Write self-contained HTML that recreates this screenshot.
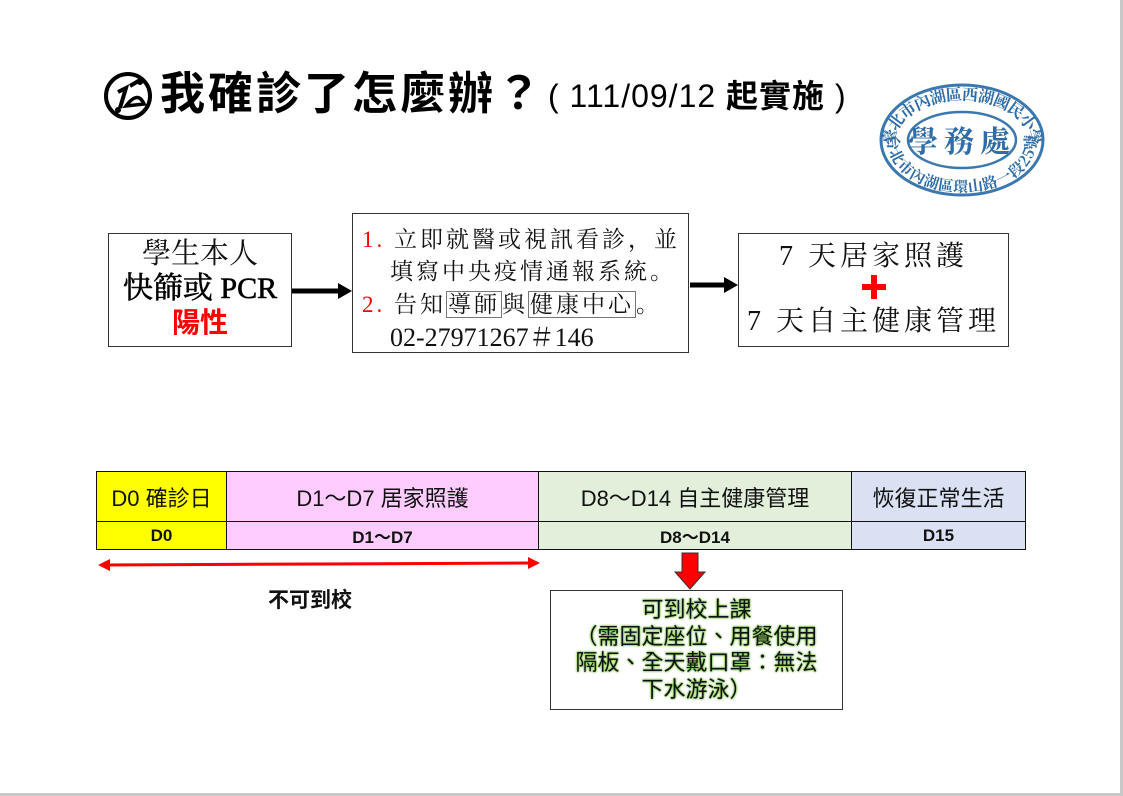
<!DOCTYPE html>
<html><head><meta charset="utf-8"><style>
*{margin:0;padding:0;box-sizing:border-box}
body{width:1123px;height:796px;background:#fff;position:relative;overflow:hidden;font-family:"Liberation Sans","Noto Sans CJK TC",sans-serif}
.a{position:absolute}
.serif{font-family:"Liberation Serif","Noto Serif CJK SC",serif}
.box{position:absolute;border:1.5px solid #333;background:#fff}
.c{position:absolute;text-align:center;white-space:nowrap}
td{border:1.5px solid #111;text-align:center;color:#111;padding:0}
table{border-collapse:collapse;position:absolute;left:96px;top:471px;width:930px}
</style></head><body>
<div class="a" style="right:0;top:0;width:3px;height:796px;background:#c8c8c8"></div>
<div class="a" style="left:0;bottom:0;width:1123px;height:3px;background:#c8c8c8"></div>

<svg class="a" style="left:100px;top:70px" width="56" height="52" viewBox="0 0 56 52">
<circle cx="28" cy="26" r="22" fill="none" stroke="#000" stroke-width="4"/>
<path d="M18 22 L26 18 L20 38" fill="none" stroke="#000" stroke-width="4"/>
<path d="M26 36 Q38 20 44 34 Z" fill="none" stroke="#000" stroke-width="3.5"/>
<path d="M30 16 L40 10" stroke="#000" stroke-width="4"/>
<circle cx="40" cy="12" r="3" fill="#000"/><circle cx="18" cy="40" r="3" fill="#000"/>
</svg>
<div class="a" style="left:160px;top:66px;font-size:45px;font-weight:bold;line-height:56px;letter-spacing:3px;color:#000">我確診了怎麼辦？</div>
<div class="a" style="left:548px;top:77px;font-size:32px;line-height:38px;color:#000;white-space:nowrap;letter-spacing:1px">( 111/09/12 <b>起實施</b> )</div>

<svg class="a" style="left:878px;top:82px" width="170" height="118" viewBox="0 0 170 118">
<ellipse cx="84" cy="58" rx="81" ry="55" fill="none" stroke="#3b78b0" stroke-width="3"/>
<ellipse cx="84" cy="58" rx="54" ry="28" fill="none" stroke="#3b78b0" stroke-width="2.5"/>
<text x="84" y="70" font-size="30" fill="#2f6da8" text-anchor="middle" font-family="Noto Serif CJK SC,serif" font-weight="bold" letter-spacing="6">學務處</text>
<path id="t1" d="M12 62 A72 48 0 0 1 156 62" fill="none"/>
<text font-size="16" fill="#2f6da8" font-weight="bold" font-family="Noto Serif CJK SC,serif" dy="4"><textPath href="#t1" startOffset="50%" text-anchor="middle">臺北市內湖區西湖國民小學</textPath></text>
<path id="t2" d="M14 60 A70 46 0 0 0 154 60" fill="none"/>
<text font-size="15" fill="#2f6da8" font-weight="bold" font-family="Noto Serif CJK SC,serif" dy="4"><textPath href="#t2" startOffset="50%" text-anchor="middle">台北市內湖區環山路一段25號</textPath></text>
</svg>

<div class="box serif" style="left:108px;top:233px;width:184px;height:114px"></div>
<div class="c serif" style="left:108px;top:238px;width:184px;font-size:29px;line-height:32px;color:#111">學生本人</div>
<div class="c serif" style="left:108px;top:272px;width:184px;font-size:30px;line-height:34px;color:#000;-webkit-text-stroke:0.6px #000">快篩或 PCR</div>
<div class="c" style="left:108px;top:306px;width:184px;font-size:28px;line-height:34px;font-weight:bold;color:#f00">陽性</div>

<svg class="a" style="left:290px;top:270px" width="460" height="40">
<line x1="2" y1="21" x2="50" y2="21" stroke="#000" stroke-width="5"/>
<polygon points="48,13 62,21 48,29" fill="#000"/>
<line x1="400" y1="15" x2="436" y2="15" stroke="#000" stroke-width="5"/>
<polygon points="434,7 448,15 434,23" fill="#000"/>
</svg>

<div class="box" style="left:352px;top:213px;width:337px;height:140px"></div>
<div class="a serif" style="left:362px;top:224px;font-size:23px;line-height:32px;letter-spacing:3px;color:#111;white-space:nowrap">
<div><span style="color:#f00">1.</span> 立即就醫或視訊看診，並</div>
<div style="padding-left:28px">填寫中央疫情通報系統。</div>
<div style="line-height:34px"><span style="color:#f00">2.</span> 告知<span style="border:1px solid #777;padding:0 1px">導師</span>與<span style="border:1px solid #777;padding:0 1px">健康中心</span>。</div>
<div style="padding-left:28px;letter-spacing:0;font-size:26px">02-27971267＃146</div>
</div>

<div class="box" style="left:738px;top:233px;width:271px;height:114px"></div>
<div class="c serif" style="left:738px;top:240px;width:271px;font-size:28px;line-height:34px;letter-spacing:4px;color:#111">7 天居家照護</div>
<div class="a" style="left:862px;top:284px;width:24px;height:6px;background:#f00"></div>
<div class="a" style="left:871px;top:275px;width:6px;height:24px;background:#f00"></div>
<div class="c serif" style="left:738px;top:305px;width:271px;font-size:28px;line-height:34px;letter-spacing:4px;color:#111">7 天自主健康管理</div>

<table>
<tr style="height:50px;font-size:22px">
<td style="width:130px;background:#ffff00">D0 確診日</td>
<td style="width:312px;background:#ffccff">D1～D7 居家照護</td>
<td style="width:313px;background:#e2efda">D8～D14 自主健康管理</td>
<td style="background:#d9e1f2">恢復正常生活</td></tr>
<tr style="height:28px;font-size:17px;font-weight:bold">
<td style="background:#ffff00">D0</td><td style="background:#ffccff">D1～D7</td>
<td style="background:#e2efda">D8～D14</td><td style="background:#d9e1f2">D15</td></tr>
</table>

<svg class="a" style="left:96px;top:555px" width="450" height="20">
<line x1="10" y1="10" x2="436" y2="8" stroke="#f00" stroke-width="3"/>
<polygon points="2,10 14,4 14,16" fill="#f00"/>
<polygon points="444,8 432,2 432,14" fill="#f00"/>
</svg>
<div class="a" style="left:268px;top:588px;font-size:21px;font-weight:bold;line-height:26px;color:#111">不可到校</div>

<svg class="a" style="left:672px;top:552px" width="36" height="40">
<polygon points="10,1 26,1 26,20 33,20 18,37 3,20 10,20" fill="#f00" stroke="#333" stroke-width="1"/>
</svg>

<div class="box" style="left:550px;top:590px;width:293px;height:120px"></div>
<div class="c" style="left:550px;top:597px;width:293px;font-size:22px;line-height:26.5px;color:#111;text-shadow:0 0 2px #6bbd2b,0 0 2px #6bbd2b">可到校上課<br>（需固定座位、用餐使用<br>隔板、全天戴口罩：無法<br>下水游泳）</div>
</body></html>
